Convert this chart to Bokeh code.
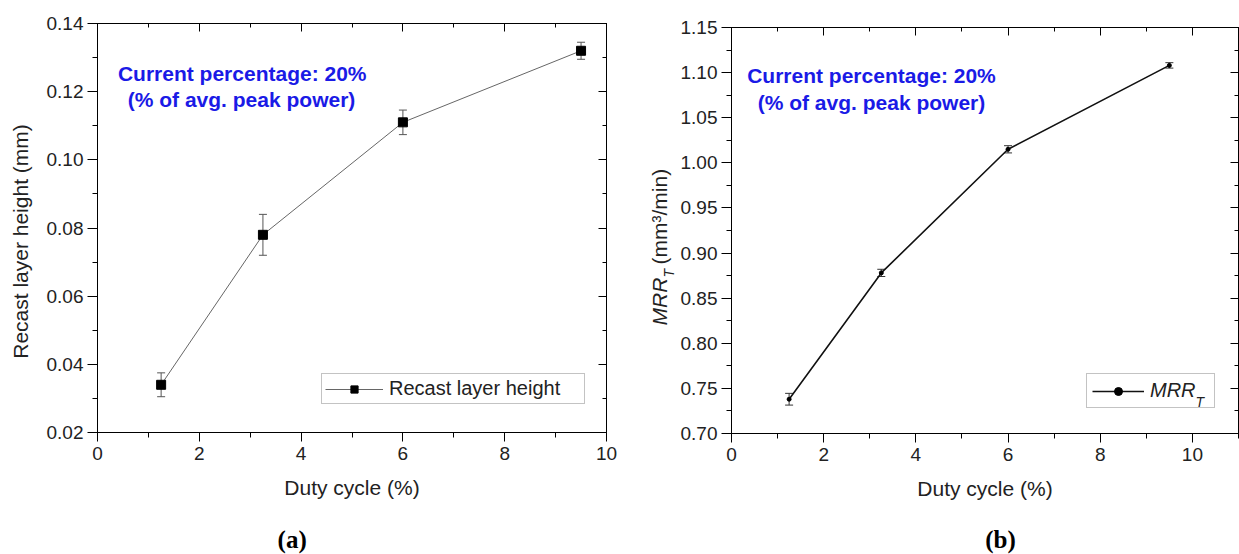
import math
from bokeh.plotting import figure
from bokeh.models import (ColumnDataSource, Whisker, TeeHead, LinearAxis, SingleIntervalTicker,
                          NumeralTickFormatter, Range1d, Label, Legend, LegendItem,
                          CustomJSTickFormatter)
from bokeh.layouts import row, column
from bokeh.embed import file_html
from bokeh.resources import INLINE

# ---------------- data ----------------
duty_cycle = [1.25, 3.25, 6.0, 9.5]
recast_height = [0.034, 0.078, 0.111, 0.132]
recast_err = [0.0035, 0.006, 0.0036, 0.0025]
mrr_t = [0.738, 0.878, 1.015, 1.108]
mrr_err = [0.0065, 0.004, 0.004, 0.003]

FONT = "Liberation Sans"
TXT = "#222222"
BLUE = "#1a1ae6"
PH = 510  # height of the plot row


def base_fig(width, xr, yr, xint, yint, yfmt, mb):
    p = figure(width=width, height=PH, x_range=Range1d(*xr), y_range=Range1d(*yr),
               output_backend="svg", toolbar_location=None, tools="",
               min_border_left=mb[0], min_border_right=mb[1],
               min_border_top=mb[2], min_border_bottom=mb[3])
    p.xgrid.visible = False
    p.ygrid.visible = False
    p.outline_line_color = "black"
    p.outline_line_width = 1
    p.background_fill_color = "white"
    p.border_fill_color = "white"

    xt = SingleIntervalTicker(interval=xint, num_minor_ticks=2)
    yt = SingleIntervalTicker(interval=yint, num_minor_ticks=2)
    xa = p.xaxis[0]
    ya = p.yaxis[0]
    xa.ticker = xt
    ya.ticker = yt
    xa.formatter = NumeralTickFormatter(format="0")
    ya.formatter = NumeralTickFormatter(format=yfmt)
    for a in (xa, ya):
        a.axis_line_color = "black"
        a.major_tick_line_color = "black"
        a.minor_tick_line_color = "black"
        a.major_tick_in = 0
        a.minor_tick_in = 0
        a.major_label_text_font = FONT
        a.major_label_text_font_size = "19px"
        a.major_label_text_color = TXT
        a.axis_label_text_font = FONT
        a.axis_label_text_font_size = "21px"
        a.axis_label_text_font_style = "normal"
        a.axis_label_text_color = TXT
    xa.major_tick_out = 9
    xa.minor_tick_out = 5
    xa.major_label_standoff = 5
    xa.axis_label = "Duty cycle (%)"
    xa.axis_label_standoff = 13
    ya.major_tick_out = 10
    ya.minor_tick_out = 5
    ya.major_label_standoff = 4

    blank = CustomJSTickFormatter(code="return ''")
    for loc, tk in (("above", xt), ("right", yt)):
        ax = LinearAxis(ticker=tk, formatter=blank, major_tick_in=8, major_tick_out=0,
                        minor_tick_in=4, minor_tick_out=0, major_label_standoff=0,
                        axis_line_color="black", major_tick_line_color="black",
                        minor_tick_line_color="black")
        p.add_layout(ax, loc)
    return p


def text_fig(width, height, ytop, ybottom):
    """A blank figure whose data coordinates are page pixels (y downwards)."""
    f = figure(width=width, height=height, x_range=Range1d(0, width),
               y_range=Range1d(ybottom, ytop), output_backend="svg", toolbar_location=None,
               tools="", x_axis_location=None, y_axis_location=None,
               min_border_left=0, min_border_right=0, min_border_top=0, min_border_bottom=0)
    f.xgrid.visible = False
    f.ygrid.visible = False
    f.outline_line_color = None
    f.background_fill_color = "white"
    f.border_fill_color = "white"
    return f


def txt(p, x, y, s, size, color=TXT, style="normal", font=FONT, align="center",
        angle=0.0, baseline="middle"):
    p.add_layout(Label(x=x, y=y, text=s, text_font=font, text_font_size=size,
                       text_color=color, text_font_style=style, text_align=align,
                       text_baseline=baseline, angle=angle))


# ---------------- panel (a) ----------------
p1 = base_fig(580, (0, 10), (0.02, 0.1400001), 2, 0.02, "0.00", (57, 14, 23, PH - 432))
src1 = ColumnDataSource(dict(x=duty_cycle, y=recast_height,
                             up=[v + e for v, e in zip(recast_height, recast_err)],
                             lo=[v - e for v, e in zip(recast_height, recast_err)]))
l1 = p1.line("x", "y", source=src1, line_color="#666666", line_width=1)
p1.add_layout(Whisker(base="x", upper="up", lower="lo", source=src1,
                      line_color="#555555", line_width=1,
                      upper_head=TeeHead(size=8, line_color="#555555", line_width=1),
                      lower_head=TeeHead(size=8, line_color="#555555", line_width=1)))
s1 = p1.scatter("x", "y", source=src1, marker="square", size=9,
                fill_color="black", line_color="black")
leg1 = Legend(items=[LegendItem(label="Recast layer height", renderers=[l1, s1])],
              location=(224, 28), glyph_width=58, glyph_height=18, label_standoff=6,
              padding=3, margin=0, label_width=192, label_height=20,
              label_text_font=FONT, label_text_font_size="20px", label_text_color=TXT,
              border_line_color="#888888", border_line_width=1, background_fill_alpha=1)
p1.add_layout(leg1)
txt(p1, 2.843, 0.1253, "Current percentage: 20%", "21px", BLUE, "bold")
txt(p1, 2.830, 0.1177, "(% of avg. peak power)", "21px", BLUE, "bold")

yl1 = text_fig(40, PH, 23, 432)
txt(yl1, 20, 241, "Recast layer height (mm)", "21px", angle=math.pi / 2)
cap1 = text_fig(620, 554 - PH, 0, 554 - PH)
txt(cap1, 291.7, 29, "(a)", "25px", "black", "bold", "Liberation Serif")

# ---------------- panel (b) ----------------
p2 = base_fig(563, (0, 11), (0.70, 1.1500001), 2, 0.05, "0.00", (55, 1, 27, PH - 433))
src2 = ColumnDataSource(dict(x=duty_cycle, y=mrr_t,
                             up=[v + e for v, e in zip(mrr_t, mrr_err)],
                             lo=[v - e for v, e in zip(mrr_t, mrr_err)]))
l2 = p2.line("x", "y", source=src2, line_color="#111111", line_width=1.6)
p2.add_layout(Whisker(base="x", upper="up", lower="lo", source=src2,
                      line_color="#333333", line_width=1,
                      upper_head=TeeHead(size=8, line_color="#333333", line_width=1),
                      lower_head=TeeHead(size=8, line_color="#333333", line_width=1)))
s2 = p2.scatter("x", "y", source=src2, marker="circle", size=4,
                fill_color="black", line_color="black")
leg2 = Legend(items=[LegendItem(label="MRR", renderers=[l2, s2])],
              location=(355, 25), glyph_width=52, glyph_height=20, label_standoff=6,
              padding=5, margin=0, label_width=59, label_height=20,
              label_text_font=FONT, label_text_font_size="20px",
              label_text_font_style="italic", label_text_color=TXT,
              border_line_color="#888888", border_line_width=1, background_fill_alpha=0)
p2.add_layout(leg2)
txt(p2, 10.065, 0.7344, "T", "14px", style="italic", align="left")
txt(p2, 3.037, 1.0969, "Current percentage: 20%", "21px", BLUE, "bold")
txt(p2, 3.037, 1.0670, "(% of avg. peak power)", "21px", BLUE, "bold")

yl2 = text_fig(56, PH, 27, 433)
# rotated y-axis title: MRR_T (mm³/min)
txt(yl2, 39, 325, "MRR", "21px", style="italic", align="left", angle=math.pi / 2)
txt(yl2, 48, 277, "T", "14px", style="italic", align="left", angle=math.pi / 2)
txt(yl2, 39, 264, "(mm³/min)", "21px", align="left", angle=math.pi / 2)
cap2 = text_fig(619, 554 - PH, 0, 554 - PH)
txt(cap2, 380, 29, "(b)", "25px", "black", "bold", "Liberation Serif")

layout = row(column(row(yl1, p1, spacing=0), cap1, spacing=0),
             column(row(yl2, p2, spacing=0), cap2, spacing=0), spacing=0)
open("out.html", "w").write(file_html(layout, INLINE))
